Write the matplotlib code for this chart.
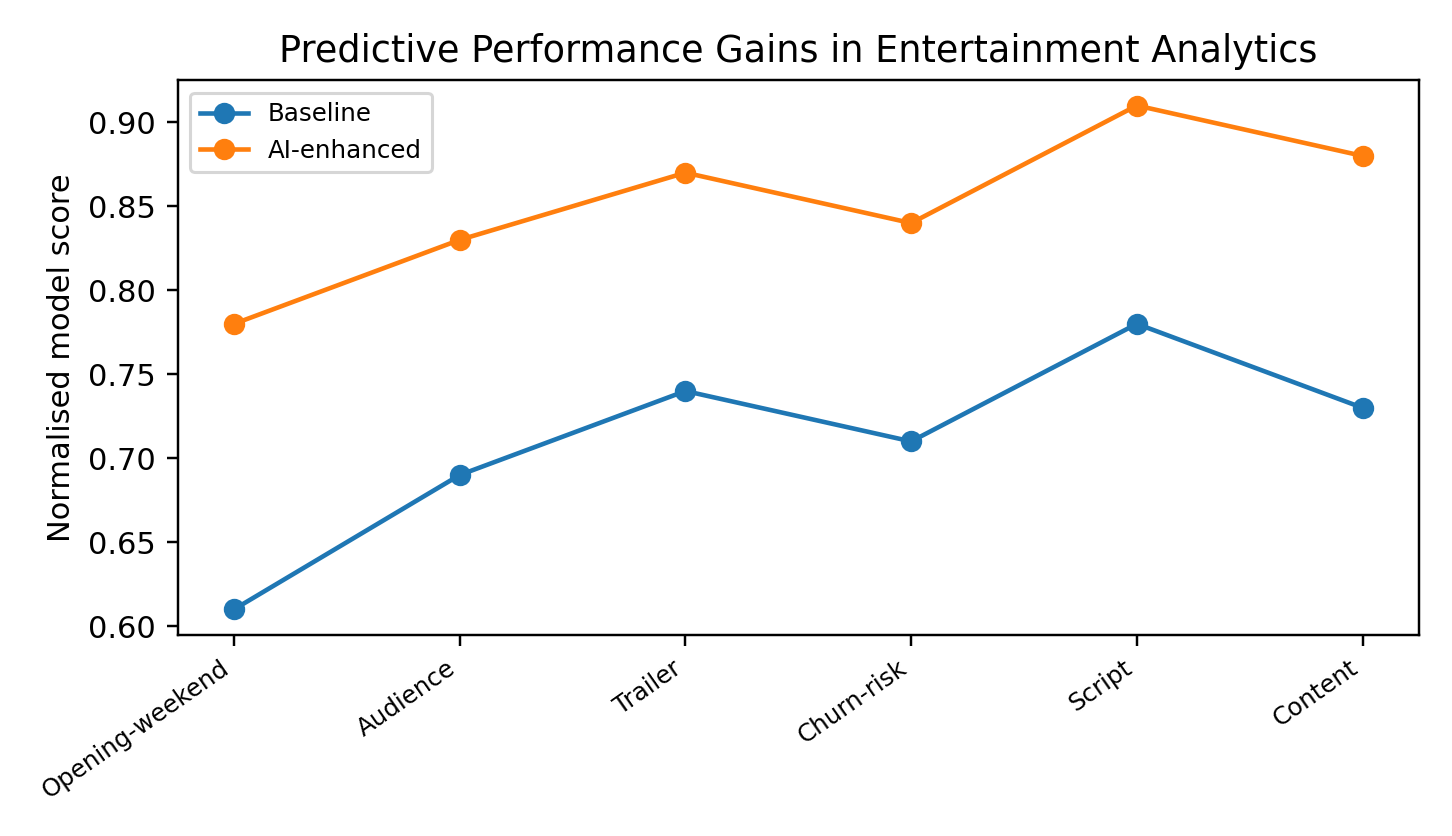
import matplotlib
matplotlib.use("Agg")
import matplotlib.pyplot as plt

categories = ["Opening-weekend", "Audience", "Trailer", "Churn-risk", "Script", "Content"]
baseline = [0.61, 0.69, 0.74, 0.71, 0.78, 0.73]
ai_enhanced = [0.78, 0.83, 0.87, 0.84, 0.91, 0.88]

fig, ax = plt.subplots(figsize=(6.6, 3.8), dpi=220)
x = range(len(categories))
ax.plot(x, baseline, marker="o", label="Baseline")
ax.plot(x, ai_enhanced, marker="o", label="AI-enhanced")
ax.set_xticks(list(x))
ax.set_xticklabels(categories, rotation=35, ha="right", fontsize=8)
ax.set_ylabel("Normalised model score")
ax.set_title("Predictive Performance Gains in Entertainment Analytics")
ax.legend(fontsize=8, loc="upper left")
fig.tight_layout()
fig.savefig("out.png", dpi=220)
